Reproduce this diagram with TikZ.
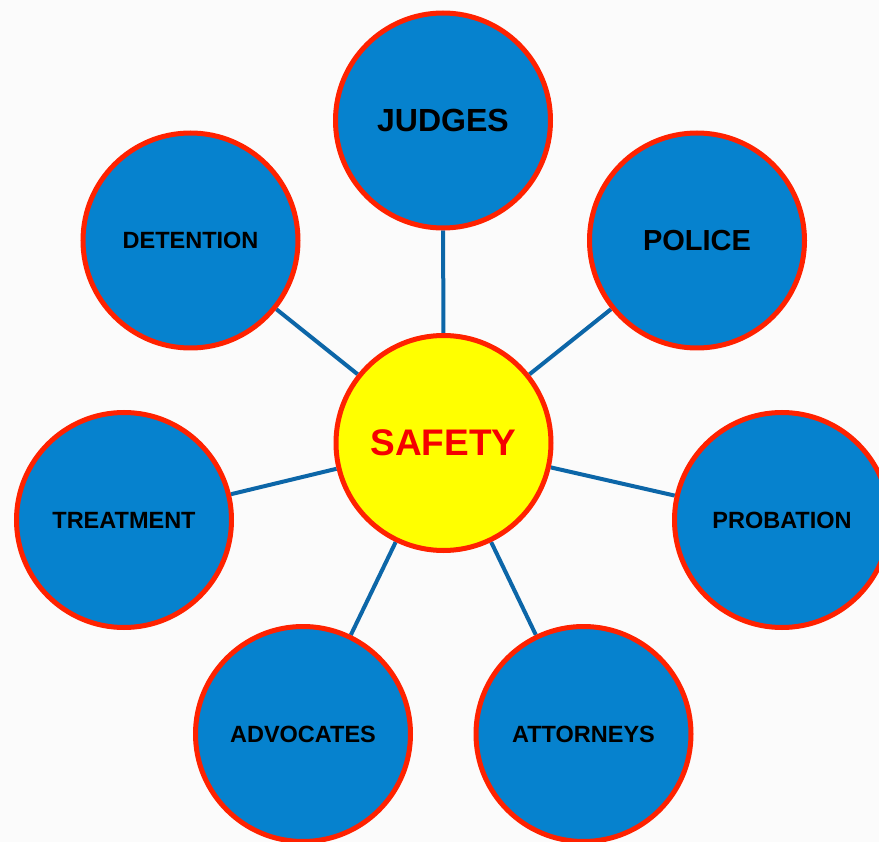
\documentclass[tikz,border=0pt]{standalone}
\usepackage{fontspec}
\setmainfont{Liberation Sans}
\usetikzlibrary{backgrounds}
\definecolor{hubyellow}{RGB}{255,255,0}
\definecolor{hubtext}{RGB}{245,0,0}
\definecolor{ringred}{RGB}{255,34,0}
\definecolor{spokeblue}{RGB}{12,102,168}
\definecolor{partblue}{RGB}{6,130,206}
\definecolor{paper}{RGB}{251,251,251}
\tikzset{
  part/.style={circle, draw=ringred, fill=partblue, line width=5pt,
               minimum size=215pt, inner sep=0pt, text=black,
               font=\fontsize{23.5}{27}\selectfont\bfseries},
  bigpart/.style={part, font=\fontsize{29}{34}\selectfont\bfseries},
  hub/.style={part, fill=hubyellow, text=hubtext,
              font=\fontsize{37}{42}\selectfont\bfseries},
  spoke/.style={spokeblue, line width=4pt},
}

\begin{document}
\begin{tikzpicture}[x=1pt, y=-1pt]
  \useasboundingbox (0,0) rectangle (879,842);
  % centre and the seven parts around it
  \node[hub] (safety) at (443.5,443) {SAFETY};
  \node[bigpart, font=\fontsize{32}{36}\selectfont\bfseries] (judges) at (443,120.5) {JUDGES};
  \node[bigpart] (police) at (697,240.5) {POLICE};
  \node[part] (probation) at (782,520) {PROBATION};
  \node[part] (attorneys) at (583.5,734) {ATTORNEYS};
  \node[part] (advocates) at (303,734) {ADVOCATES};
  \node[part] (treatment) at (124,520) {TREATMENT};
  \node[part] (detention) at (190.5,240.5) {DETENTION};
  \begin{scope}[on background layer]
    \fill[paper] (0,0) rectangle (879,842);
    \foreach \n in {judges,police,probation,attorneys,advocates,treatment,detention}
      \draw[spoke] (safety) -- (\n);
  \end{scope}
\end{tikzpicture}
\end{document}
